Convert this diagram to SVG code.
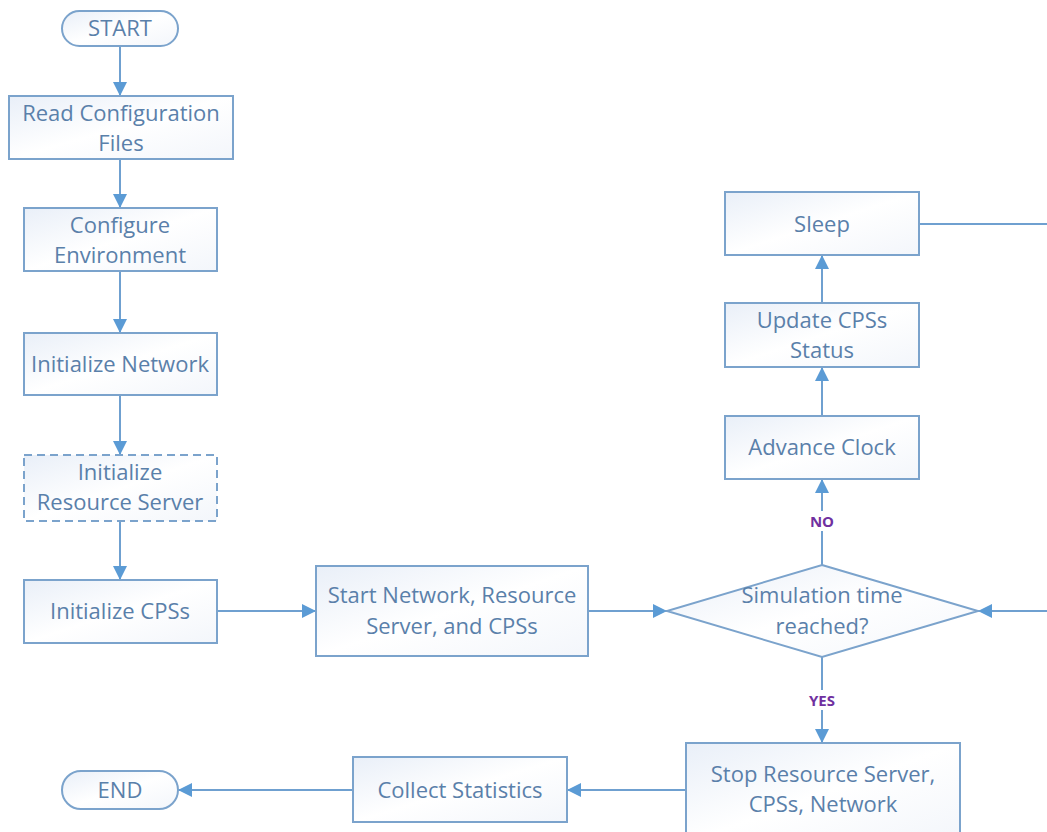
<svg xmlns="http://www.w3.org/2000/svg" width="1047" height="832" viewBox="0 0 1047 832">
  <defs>
    <linearGradient id="boxFill" x1="0" y1="0" x2="1" y2="1">
      <stop offset="0" stop-color="#e9eff8"/>
      <stop offset="0.5" stop-color="#ffffff"/>
      <stop offset="1" stop-color="#f3f6fb"/>
    </linearGradient>
    <marker id="arrow" viewBox="0 0 10 10" refX="10" refY="5" markerWidth="14" markerHeight="14" markerUnits="userSpaceOnUse" orient="auto">
      <path d="M0,0 L10,5 L0,10 z" fill="#5b9bd5"/>
    </marker>
  </defs>
  <style>
    .box { fill: url(#boxFill); stroke: #7ba3cc; stroke-width: 2; }
    .dashed { stroke-dasharray: 8 5; }
    .lbl { font-family: "Open Sans", "Liberation Sans", sans-serif; font-size: 22px; fill: #5a80aa; text-anchor: middle; }
    .cond { font-family: "Open Sans", "Liberation Sans", sans-serif; font-size: 15px; font-weight: bold; fill: #7030a0; text-anchor: middle; }
    .edge { fill: none; stroke: #6fa0d0; stroke-width: 2; }
    .arr { marker-end: url(#arrow); }
  </style>
  <rect width="1047" height="832" fill="#ffffff"/>

  <g id="connectors">
    <line class="edge arr" x1="120" y1="46" x2="120" y2="96"/>
    <line class="edge arr" x1="120" y1="159" x2="120" y2="208"/>
    <line class="edge arr" x1="120" y1="271" x2="120" y2="333"/>
    <line class="edge arr" x1="120" y1="395" x2="120" y2="455"/>
    <line class="edge arr" x1="120" y1="521" x2="120" y2="580"/>
    <line class="edge arr" x1="217" y1="611" x2="316" y2="611"/>
    <line class="edge arr" x1="588" y1="611" x2="667" y2="611"/>
    <line class="edge arr" x1="822" y1="565" x2="822" y2="479"/>
    <line class="edge arr" x1="822" y1="416" x2="822" y2="367"/>
    <line class="edge arr" x1="822" y1="303" x2="822" y2="255"/>
    <line class="edge" x1="919" y1="224" x2="1047" y2="224"/>
    <line class="edge arr" x1="1047" y1="611" x2="978" y2="611"/>
    <line class="edge arr" x1="822" y1="657" x2="822" y2="743"/>
    <line class="edge arr" x1="686" y1="790" x2="567" y2="790"/>
    <line class="edge arr" x1="353" y1="790" x2="178" y2="790"/>
    <rect x="804" y="511" width="36" height="20" fill="#ffffff"/>
    <text class="cond" x="822" y="527">NO</text>
    <rect x="800" y="690" width="44" height="20" fill="#ffffff"/>
    <text class="cond" x="822" y="706">YES</text>
  </g>

  <g id="start">
    <rect class="box" x="62" y="11" width="116" height="35" rx="17.5"/>
    <text class="lbl" x="120" y="36">START</text>
  </g>
  <g id="read-config">
    <rect class="box" x="9" y="96" width="224" height="63"/>
    <text class="lbl" x="121" y="121">Read Configuration</text>
    <text class="lbl" x="121" y="151">Files</text>
  </g>
  <g id="configure-env">
    <rect class="box" x="24" y="208" width="193" height="63"/>
    <text class="lbl" x="120" y="233">Configure</text>
    <text class="lbl" x="120" y="263">Environment</text>
  </g>
  <g id="init-network">
    <rect class="box" x="24" y="333" width="193" height="62"/>
    <text class="lbl" x="120" y="372">Initialize Network</text>
  </g>
  <g id="init-resource-server">
    <rect class="box dashed" x="24" y="455" width="193" height="66"/>
    <text class="lbl" x="120" y="480">Initialize</text>
    <text class="lbl" x="120" y="510">Resource Server</text>
  </g>
  <g id="init-cpss">
    <rect class="box" x="24" y="580" width="193" height="63"/>
    <text class="lbl" x="120" y="619">Initialize CPSs</text>
  </g>
  <g id="start-all">
    <rect class="box" x="316" y="566" width="272" height="90"/>
    <text class="lbl" x="452" y="603">Start Network, Resource</text>
    <text class="lbl" x="452" y="634">Server, and CPSs</text>
  </g>
  <g id="sim-time">
    <polygon class="box" points="822,565 978,611 822,657 667,611"/>
    <text class="lbl" x="822" y="603">Simulation time</text>
    <text class="lbl" x="822" y="634">reached?</text>
  </g>
  <g id="advance-clock">
    <rect class="box" x="725" y="416" width="194" height="63"/>
    <text class="lbl" x="822" y="455">Advance Clock</text>
  </g>
  <g id="update-status">
    <rect class="box" x="725" y="303" width="194" height="64"/>
    <text class="lbl" x="822" y="328">Update CPSs</text>
    <text class="lbl" x="822" y="358">Status</text>
  </g>
  <g id="sleep">
    <rect class="box" x="725" y="192" width="194" height="63"/>
    <text class="lbl" x="822" y="232">Sleep</text>
  </g>
  <g id="stop-all">
    <rect class="box" x="686" y="743" width="274" height="100"/>
    <text class="lbl" x="823" y="782">Stop Resource Server,</text>
    <text class="lbl" x="823" y="812">CPSs, Network</text>
  </g>
  <g id="collect-stats">
    <rect class="box" x="353" y="757" width="214" height="65"/>
    <text class="lbl" x="460" y="798">Collect Statistics</text>
  </g>
  <g id="end">
    <rect class="box" x="62" y="771" width="116" height="38" rx="19"/>
    <text class="lbl" x="120" y="798">END</text>
  </g>
</svg>
